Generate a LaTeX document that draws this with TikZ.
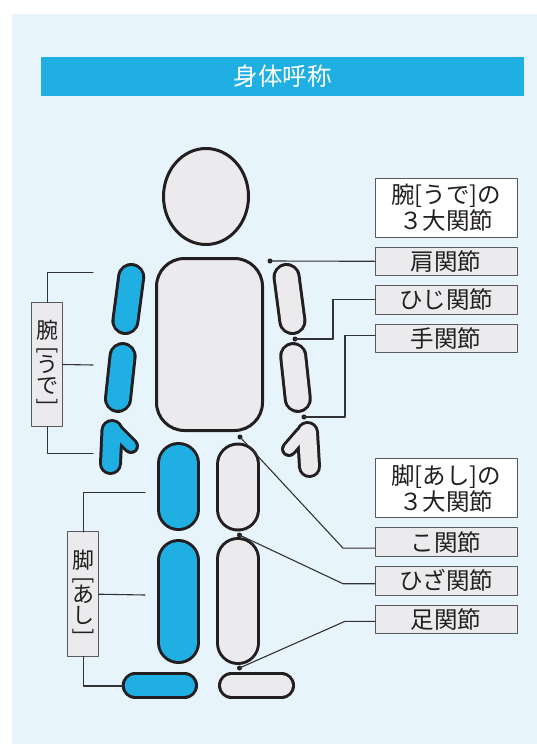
\documentclass[tikz,border=0pt]{standalone}
\usepackage{fontspec}
\setmainfont{Noto Sans CJK JP}
\usetikzlibrary{positioning}
\definecolor{BodyPaper}{RGB}{232,244,251}
\definecolor{BodyBlue}{RGB}{31,175,227}
\definecolor{BodyGray}{RGB}{235,235,237}
\definecolor{BodyInk}{RGB}{35,31,32}
\definecolor{BodyFrame}{RGB}{90,90,92}
\definecolor{BodyLead}{RGB}{50,50,52}
\tikzset{
    body/diagram/.style={
        x=1pt, y=-1pt,
        line cap=round, line join=round,
        node distance=10pt,
        every node/.style={inner sep=0pt, outer sep=0pt}
    },
    body/part/.style={draw=BodyInk, fill=BodyGray, line width=3pt},
    body/limb/.style={
        draw=BodyInk, double=#1, line width=3pt, line cap=round
    },
    body/title/.style={
        fill=BodyBlue, text=white, minimum width=483pt, minimum height=39pt,
        font=\fontsize{24.5}{28}\selectfont
    },
    body/label/.style={
        draw=BodyFrame, fill=BodyGray, line width=1pt, text=BodyInk,
        minimum width=142pt, minimum height=28.6pt,
        font=\fontsize{23.5}{26}\selectfont
    },
    body/header/.style={
        body/label, fill=white, minimum height=59pt, align=center
    },
    body/side/.style={
        draw=BodyFrame, fill=BodyGray, line width=1pt, text=BodyInk,
        minimum width=31pt, minimum height=124.5pt,
        font=\fontsize{22}{21}\selectfont
    },
    body/joint/.style={circle, fill=BodyInk, minimum size=5pt},
    body/leader/.style={draw=BodyLead, line width=1.1pt}
}
% kanji, then the kana between turned brackets, set top to bottom
\newcommand{\sidestack}[3]{%
    \vbox{\baselineskip=21pt\lineskiplimit=-50pt
        \hbox to 24pt{\hss#1\hss}\vskip-2pt
        \hbox to 24pt{\hss\rotatebox[origin=c]{-90}{[}\hss}\vskip-6pt
        \hbox to 24pt{\hss#2\hss}\vskip0.5pt
        \hbox to 24pt{\hss#3\hss}\vskip-6pt
        \hbox to 24pt{\hss\rotatebox[origin=c]{-90}{]}\hss}}}

\begin{document}
\begin{tikzpicture}[body/diagram]
    \useasboundingbox (0,0) rectangle (537,744);
    \fill[BodyPaper] (12,14) rectangle (537,744);
    \node[body/title] (title) at (282.5,76) {身体呼称};

    % head and trunk
    \draw[body/part] (206,196.5) ellipse [x radius=42.5, y radius=48];
    \draw[body/part, rounded corners=28pt] (156.5,258.5) rectangle (262.5,430.5);

    % arms and legs are round-capped strokes, the double line gives the rim
    \draw[body/limb=BodyBlue, double distance=22pt] (131.2,277) -- (125.4,321);
    \draw[body/limb=BodyBlue, double distance=22pt] (122.6,356.1) -- (118,398.9);
    \draw[body/limb=BodyGray, double distance=22pt] (286.6,277) -- (292.4,321);
    \draw[body/limb=BodyGray, double distance=22pt] (293.2,356.1) -- (297.8,398.9);
    \draw[body/limb=BodyBlue, double distance=37pt] (178.5,463.5) -- (178.5,509.5);
    \draw[body/limb=BodyBlue, double distance=37pt] (178.5,560.5) -- (178.5,642.5);
    \draw[body/limb=BodyGray, double distance=38pt] (238,464.5) -- (238,509.5);
    \draw[body/limb=BodyGray, double distance=38pt] (238,559) -- (238,643);
    \draw[body/limb=BodyBlue, double distance=21pt] (135.2,685.5) -- (184.5,685.5);
    \draw[body/limb=BodyGray, double distance=21pt] (231.5,685.5) -- (281.5,685.5);

    % hands: rims of palm and thumb first, then the fills over them
    \draw[BodyInk, line width=23pt] (112,430.5) -- (110.5,463.5);
    \draw[BodyInk, line width=16pt] (117,432) -- (131,446);
    \draw[BodyInk, line width=23pt] (307.5,432.5) -- (309.5,466.5);
    \draw[BodyInk, line width=16pt] (302,434) -- (289,449);
    \draw[BodyBlue, line width=17pt] (112,430.5) -- (110.5,463.5);
    \draw[BodyBlue, line width=10pt] (117,432) -- (131,446);
    \draw[BodyGray, line width=17pt] (307.5,432.5) -- (309.5,466.5);
    \draw[BodyGray, line width=10pt] (302,434) -- (289,449);

    % joint labels
    \node[body/header] (armhead) at (446,207.5) {腕[うで]の\\３大関節};
    \node[body/label, below=of armhead] (shoulderlabel) {肩関節};
    \node[body/label, below=of shoulderlabel] (elbowlabel) {ひじ関節};
    \node[body/label, below=of elbowlabel] (wristlabel) {手関節};
    \node[body/header] (leghead) at (446,488.3) {脚[あし]の\\３大関節};
    \node[body/label, below=of leghead] (hiplabel) {こ関節};
    \node[body/label, below=of hiplabel] (kneelabel) {ひざ関節};
    \node[body/label, below=of kneelabel] (anklelabel) {足関節};

    \node[body/joint] (shoulder) at (270,261) {};
    \node[body/joint] (elbow) at (295,339) {};
    \node[body/joint] (wrist) at (304,417) {};
    \node[body/joint] (hip) at (240,437) {};
    \node[body/joint] (knee) at (239.5,535) {};
    \node[body/joint] (ankle) at (239.5,668) {};

    \draw[body/leader] (shoulder.center) -- (shoulderlabel.west);
    \draw[body/leader] (elbow.center) -- ++(38,0) |- (elbowlabel.west);
    \draw[body/leader] (wrist.center) -- ++(41,0) |- ([yshift=3pt]wristlabel.west);
    \draw[body/leader] (hip.center) -- ([xshift=-32pt,yshift=-6pt]hiplabel.west)
        -- ([yshift=-6pt]hiplabel.west);
    \draw[body/leader] (knee.center) -- ([xshift=-32pt,yshift=-3pt]kneelabel.west)
        -- ([yshift=-3pt]kneelabel.west);
    \draw[body/leader] (ankle.center) -- ([xshift=-30pt,yshift=-2pt]anklelabel.west)
        -- ([yshift=-2pt]anklelabel.west);

    % side brackets for the whole arm and leg
    \node[body/side] (armside) at (47.2,364.5) {\sidestack{腕}{う}{で}};
    \node[body/side] (legside) at (83.2,594.2) {\sidestack{脚}{あ}{し}};
    \coordinate (armtop) at (93,272.7);
    \coordinate (armmid) at (93,365);
    \coordinate (armbot) at (93,453.3);
    \coordinate (legtop) at (145,492.3);
    \coordinate (legmid) at (145,595);
    \coordinate (legbot) at (122,686);
    \draw[body/leader] (armside.north) |- (armtop);
    \draw[body/leader] (armside.east) -- (armmid);
    \draw[body/leader] (armside.south) |- (armbot);
    \draw[body/leader] (legside.north) |- (legtop);
    \draw[body/leader] (legside.east) -- (legmid);
    \draw[body/leader] (legside.south) |- (legbot);
\end{tikzpicture}
\end{document}
